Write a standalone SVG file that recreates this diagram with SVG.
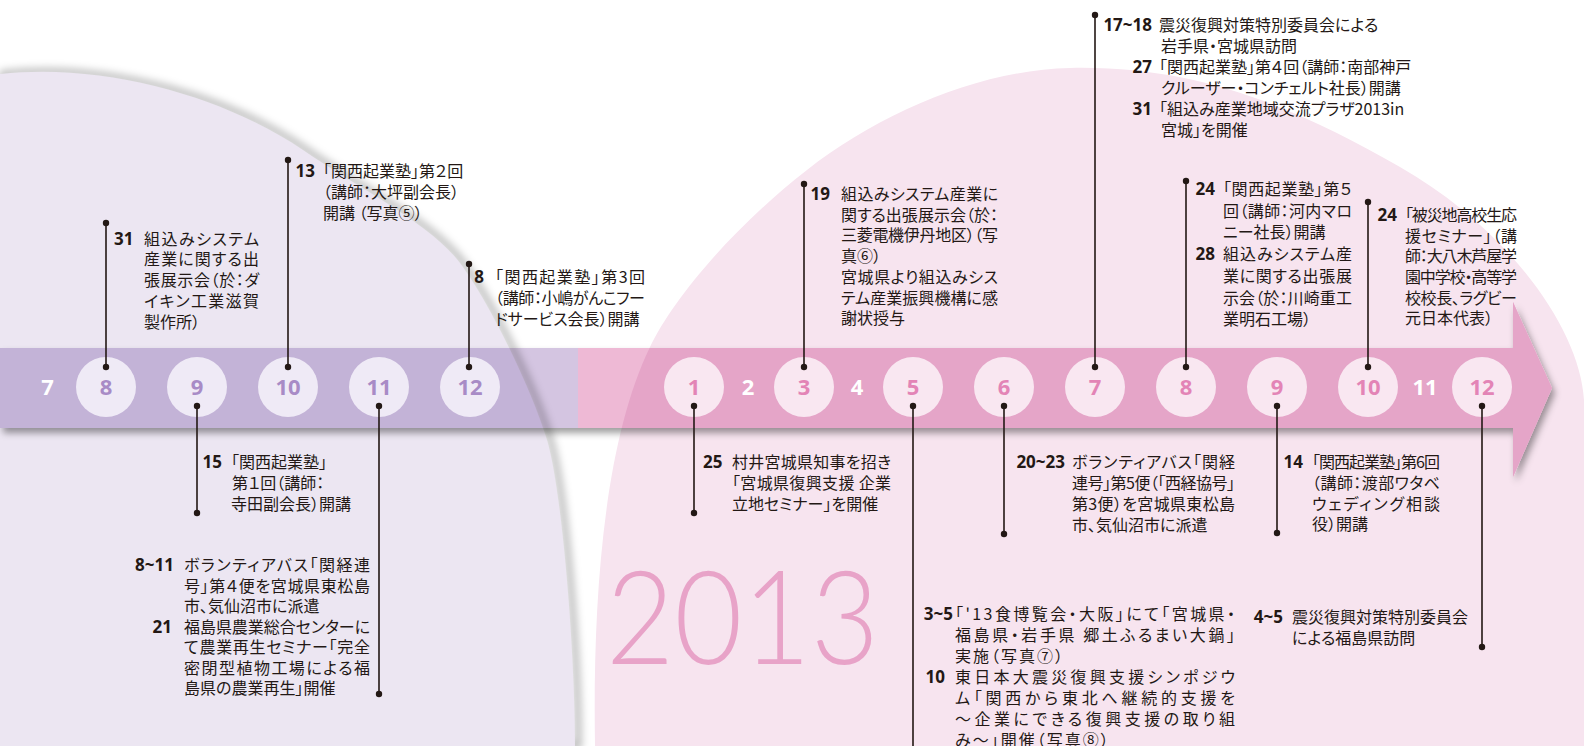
<svg xmlns="http://www.w3.org/2000/svg" width="1584" height="746" viewBox="0 0 1584 746">
<style>
.t{font-family:'Noto Sans CJK JP','Noto Sans',sans-serif;font-size:16px;fill:#231815;font-feature-settings:"palt";}
.d{font-family:'Noto Sans','Noto Sans CJK JP',sans-serif;font-weight:700;font-size:17px;fill:#231815;text-anchor:end;}
.cp{fill:#efeaf6;}
.ck{fill:#f9e7f1;}
.n{font-family:'Noto Sans','Liberation Sans',sans-serif;font-weight:700;font-size:22px;text-anchor:middle;}
.np{fill:#a88bc6;}
.nk{fill:#e384b6;}
.nw{fill:#ffffff;}
.ln{stroke:#231815;stroke-width:1.6;fill:none;}
.dot{fill:#231815;}
</style>
<defs>
<path id="lav" d="M0,746 L0,74 C110,62 230,100 303,150 C361,190 430,223 460,263 C490,303 532,390 547,440 C562,490 575,650 575,746 Z"/>
<path id="pnk" d="M595,746 C593,620 600,450 650,347 C672,301 730,230 807,170 C880,113 980,70 1070,68 C1200,65 1300,110 1400,167 C1510,230 1580,330 1584,400 L1584,746 Z"/>
<clipPath id="clipLav"><use href="#lav"/></clipPath>
<clipPath id="clipPnk"><use href="#pnk"/></clipPath>
<mask id="outLav"><rect width="1584" height="746" fill="#fff"/><use href="#lav" fill="#000"/></mask>
<filter id="bandShadow" x="-5%" y="-20%" width="115%" height="160%"><feDropShadow dx="3" dy="5" stdDeviation="3.5" flood-color="#000" flood-opacity="0.38"/></filter>
<filter id="blur" x="-10%" y="-10%" width="120%" height="120%"><feGaussianBlur stdDeviation="4"/></filter>
</defs>

<g id="background">
<rect width="1584" height="746" fill="#ffffff"/>
<use href="#lav" fill="#ece6f2"/>
<use href="#pnk" fill="#f7e4ef"/>
</g>

<g id="timeline-band">
<g filter="url(#bandShadow)">
<rect x="0" y="348" width="578" height="80" fill="#d4c5e1"/>
<path d="M578,348 H1513 V302 L1552,388 L1513,477 V428 H578 Z" fill="#eeb9d5"/>
</g>
<rect x="0" y="348" width="578" height="80" fill="#c3b3d7" clip-path="url(#clipLav)"/>
<path d="M578,348 H1513 V302 L1552,388 L1513,477 V428 H578 Z" fill="#e5a5c8" clip-path="url(#clipPnk)"/>
<g mask="url(#outLav)"><use href="#lav" fill="none" stroke="#000" stroke-opacity="0.32" stroke-width="6" filter="url(#blur)" transform="translate(3,0)"/></g>
</g>

<text id="year" x="606" y="664" font-family="Lato,'Open Sans',sans-serif" font-weight="300" font-size="130" fill="#e8a3c8" textLength="273" lengthAdjust="spacingAndGlyphs">2013</text>

<g id="months-2012">
<text class="n nw" x="47.5" y="395">7</text>
<g id="m2012-8"><circle class="cp" cx="106" cy="387" r="30"/><text class="n np" x="106" y="395">8</text></g>
<g id="m2012-9"><circle class="cp" cx="197" cy="387" r="30"/><text class="n np" x="197" y="395">9</text></g>
<g id="m2012-10"><circle class="cp" cx="288" cy="387" r="30"/><text class="n np" x="288" y="395">10</text></g>
<g id="m2012-11"><circle class="cp" cx="379" cy="387" r="30"/><text class="n np" x="379" y="395">11</text></g>
<g id="m2012-12"><circle class="cp" cx="470" cy="387" r="30"/><text class="n np" x="470" y="395">12</text></g>
</g>
<g id="months-2013">
<g id="m2013-1"><circle class="ck" cx="694" cy="387" r="30"/><text class="n nk" x="694" y="395">1</text></g>
<text class="n nw" x="748" y="395">2</text>
<g id="m2013-3"><circle class="ck" cx="804" cy="387" r="30"/><text class="n nk" x="804" y="395">3</text></g>
<text class="n nw" x="857" y="395">4</text>
<g id="m2013-5"><circle class="ck" cx="913" cy="387" r="30"/><text class="n nk" x="913" y="395">5</text></g>
<g id="m2013-6"><circle class="ck" cx="1004" cy="387" r="30"/><text class="n nk" x="1004" y="395">6</text></g>
<g id="m2013-7"><circle class="ck" cx="1095" cy="387" r="30"/><text class="n nk" x="1095" y="395">7</text></g>
<g id="m2013-8"><circle class="ck" cx="1186" cy="387" r="30"/><text class="n nk" x="1186" y="395">8</text></g>
<g id="m2013-9"><circle class="ck" cx="1277" cy="387" r="30"/><text class="n nk" x="1277" y="395">9</text></g>
<g id="m2013-10"><circle class="ck" cx="1368" cy="387" r="30"/><text class="n nk" x="1368" y="395">10</text></g>
<text class="n nw" x="1425" y="395">11</text>
<g id="m2013-12"><circle class="ck" cx="1482" cy="387" r="30"/><text class="n nk" x="1482" y="395">12</text></g>
</g>

<g id="connectors">
<path class="ln" d="M106,223V367M288,160V367M469,264V367M804,184V367M1095,15V367M1186,181V367M1368,202V367"/>
<path class="ln" d="M197,406V513M379,406V694M694,406V513M913,406V760M1004,406V534M1277,406V533M1482,406V647"/>
<g class="dot">
<circle cx="106" cy="223" r="3.2"/><circle cx="106" cy="367" r="3.2"/>
<circle cx="288" cy="160" r="3.2"/><circle cx="288" cy="367" r="3.2"/>
<circle cx="469" cy="264" r="3.2"/><circle cx="469" cy="367" r="3.2"/>
<circle cx="804" cy="184" r="3.2"/><circle cx="804" cy="367" r="3.2"/>
<circle cx="1095" cy="15" r="3.2"/><circle cx="1095" cy="367" r="3.2"/>
<circle cx="1186" cy="181" r="3.2"/><circle cx="1186" cy="367" r="3.2"/>
<circle cx="1368" cy="202" r="3.2"/><circle cx="1368" cy="367" r="3.2"/>
<circle cx="197" cy="406" r="3.2"/><circle cx="197" cy="513" r="3.2"/>
<circle cx="379" cy="406" r="3.2"/><circle cx="379" cy="694" r="3.2"/>
<circle cx="694" cy="406" r="3.2"/><circle cx="694" cy="513" r="3.2"/>
<circle cx="913" cy="406" r="3.2"/>
<circle cx="1004" cy="406" r="3.2"/><circle cx="1004" cy="534" r="3.2"/>
<circle cx="1277" cy="406" r="3.2"/><circle cx="1277" cy="533" r="3.2"/>
<circle cx="1482" cy="406" r="3.2"/><circle cx="1482" cy="647" r="3.2"/>
</g>
</g>

<g id="ev-2012-08">
<text class="d" x="133.5" y="244.5">31</text>
<text class="t" x="144" y="244.5" textLength="115" lengthAdjust="spacing">組込みシステム</text>
<text class="t" x="144" y="265.3" textLength="115" lengthAdjust="spacing">産業に関する出</text>
<text class="t" x="144" y="286.1" textLength="115" lengthAdjust="spacing">張展示会（於：ダ</text>
<text class="t" x="144" y="306.9" textLength="115" lengthAdjust="spacing">イキン工業滋賀</text>
<text class="t" x="144" y="327.7">製作所）</text>
</g>

<g id="ev-2012-10">
<text class="d" x="315" y="177">13</text>
<text class="t" x="323" y="177">「関西起業塾」第２回</text>
<text class="t" x="323" y="198">（講師：大坪副会長）</text>
<text class="t" x="323" y="219">開講 （写真⑤）</text>
</g>

<g id="ev-2012-12">
<text class="d" x="484" y="283">8</text>
<text class="t" x="495" y="283" textLength="150" lengthAdjust="spacing">「関西起業塾」第3回</text>
<text class="t" x="495" y="304" textLength="150" lengthAdjust="spacing">（講師：小嶋がんこフー</text>
<text class="t" x="495" y="325">ドサービス会長）開講</text>
</g>

<g id="ev-2012-09">
<text class="d" x="222" y="468">15</text>
<text class="t" x="231" y="468">「関西起業塾」</text>
<text class="t" x="232" y="489">第１回（講師：</text>
<text class="t" x="231" y="510">寺田副会長）開講</text>
</g>

<g id="ev-2012-11">
<text class="d" x="174" y="571">8~11</text>
<text class="t" x="184" y="571" textLength="186" lengthAdjust="spacing">ボランティアバス「関経連</text>
<text class="t" x="184" y="591.5" textLength="186" lengthAdjust="spacing">号」第４便を宮城県東松島</text>
<text class="t" x="184" y="612">市、気仙沼市に派遣</text>
<text class="d" x="172" y="632.5">21</text>
<text class="t" x="184" y="632.5" textLength="186" lengthAdjust="spacing">福島県農業総合センターに</text>
<text class="t" x="184" y="653" textLength="186" lengthAdjust="spacing">て農業再生セミナー「完全</text>
<text class="t" x="184" y="673.5" textLength="186" lengthAdjust="spacing">密閉型植物工場による福</text>
<text class="t" x="184" y="694">島県の農業再生」開催</text>
</g>

<g id="ev-2013-03">
<text class="d" x="830" y="200">19</text>
<text class="t" x="841" y="200" textLength="157" lengthAdjust="spacing">組込みシステム産業に</text>
<text class="t" x="841" y="220.7" textLength="157" lengthAdjust="spacing">関する出張展示会（於：</text>
<text class="t" x="841" y="241.4" textLength="157" lengthAdjust="spacing">三菱電機伊丹地区）（写</text>
<text class="t" x="841" y="262.1">真⑥）</text>
<text class="t" x="841" y="282.8" textLength="157" lengthAdjust="spacing">宮城県より組込みシス</text>
<text class="t" x="841" y="303.5" textLength="157" lengthAdjust="spacing">テム産業振興機構に感</text>
<text class="t" x="841" y="324.2">謝状授与</text>
</g>

<g id="ev-2013-07">
<text class="d" x="1152" y="31">17~18</text>
<text class="t" x="1159" y="31">震災復興対策特別委員会による</text>
<text class="t" x="1161" y="52">岩手県・宮城県訪問</text>
<text class="d" x="1152" y="73">27</text>
<text class="t" x="1159" y="73">「関西起業塾」第４回（講師：南部神戸</text>
<text class="t" x="1161" y="94">クルーザー・コンチェルト社長）開講</text>
<text class="d" x="1152" y="115">31</text>
<text class="t" x="1159" y="115">「組込み産業地域交流プラザ2013in</text>
<text class="t" x="1161" y="136">宮城」を開催</text>
</g>

<g id="ev-2013-08">
<text class="d" x="1215" y="195">24</text>
<text class="t" x="1223" y="195" textLength="129" lengthAdjust="spacing">「関西起業塾」第５</text>
<text class="t" x="1223" y="216.7" textLength="129" lengthAdjust="spacing">回（講師：河内マロ</text>
<text class="t" x="1223" y="238.4">ニー社長）開講</text>
<text class="d" x="1215" y="260.1">28</text>
<text class="t" x="1223" y="260.1" textLength="129" lengthAdjust="spacing">組込みシステム産</text>
<text class="t" x="1223" y="281.8" textLength="129" lengthAdjust="spacing">業に関する出張展</text>
<text class="t" x="1223" y="303.5" textLength="129" lengthAdjust="spacing">示会（於：川崎重工</text>
<text class="t" x="1223" y="325.2">業明石工場）</text>
</g>

<g id="ev-2013-10">
<text class="d" x="1397" y="221">24</text>
<text class="t" x="1405" y="221" textLength="112" lengthAdjust="spacing">「被災地高校生応</text>
<text class="t" x="1405" y="241.7" textLength="112" lengthAdjust="spacing">援セミナー」（講</text>
<text class="t" x="1405" y="262.3" textLength="112" lengthAdjust="spacing">師：大八木芦屋学</text>
<text class="t" x="1405" y="283" textLength="112" lengthAdjust="spacing">園中学校・高等学</text>
<text class="t" x="1405" y="303.6" textLength="112" lengthAdjust="spacing">校校長、ラグビー</text>
<text class="t" x="1405" y="324.3">元日本代表）</text>
</g>

<g id="ev-2013-01">
<text class="d" x="722.5" y="468">25</text>
<text class="t" x="732" y="468" textLength="159" lengthAdjust="spacing">村井宮城県知事を招き</text>
<text class="t" x="732" y="489" textLength="159" lengthAdjust="spacing">「宮城県復興支援 企業</text>
<text class="t" x="732" y="510">立地セミナー」を開催</text>
</g>

<g id="ev-2013-06">
<text class="d" x="1065" y="468">20~23</text>
<text class="t" x="1072" y="468" textLength="163" lengthAdjust="spacing">ボランティアバス「関経</text>
<text class="t" x="1072" y="489" textLength="163" lengthAdjust="spacing">連号」第5便（「西経協号」</text>
<text class="t" x="1072" y="510" textLength="163" lengthAdjust="spacing">第3便）を宮城県東松島</text>
<text class="t" x="1072" y="530.5">市、気仙沼市に派遣</text>
</g>

<g id="ev-2013-05">
<text class="d" x="953" y="619.5">3~5</text>
<text class="t" x="955" y="619.5" textLength="280" lengthAdjust="spacing">「'13食博覧会・大阪」にて「宮城県・</text>
<text class="t" x="955" y="640.5" textLength="280" lengthAdjust="spacing">福島県・岩手県 郷土ふるまい大鍋」</text>
<text class="t" x="955" y="661.5" letter-spacing="2">実施（写真⑦）</text>
<text class="d" x="945" y="682.5">10</text>
<text class="t" x="955" y="682.5" textLength="280" lengthAdjust="spacing">東日本大震災復興支援シンポジウ</text>
<text class="t" x="955" y="703.5" textLength="280" lengthAdjust="spacing">ム「関西から東北へ継続的支援を</text>
<text class="t" x="955" y="724.5" textLength="280" lengthAdjust="spacing">〜企業にできる復興支援の取り組</text>
<text class="t" x="955" y="745.5" letter-spacing="2">み〜」開催（写真⑧）</text>
</g>

<g id="ev-2013-09">
<text class="d" x="1303" y="468">14</text>
<text class="t" x="1312" y="468" textLength="128" lengthAdjust="spacing">「関西起業塾」第6回</text>
<text class="t" x="1312" y="488.8" textLength="128" lengthAdjust="spacing">（講師：渡部ワタベ</text>
<text class="t" x="1312" y="509.6" textLength="128" lengthAdjust="spacing">ウェディング相談</text>
<text class="t" x="1312" y="530.4">役）開講</text>
</g>

<g id="ev-2013-12">
<text class="d" x="1283" y="623">4~5</text>
<text class="t" x="1292" y="623">震災復興対策特別委員会</text>
<text class="t" x="1292" y="644">による福島県訪問</text>
</g>
</svg>
